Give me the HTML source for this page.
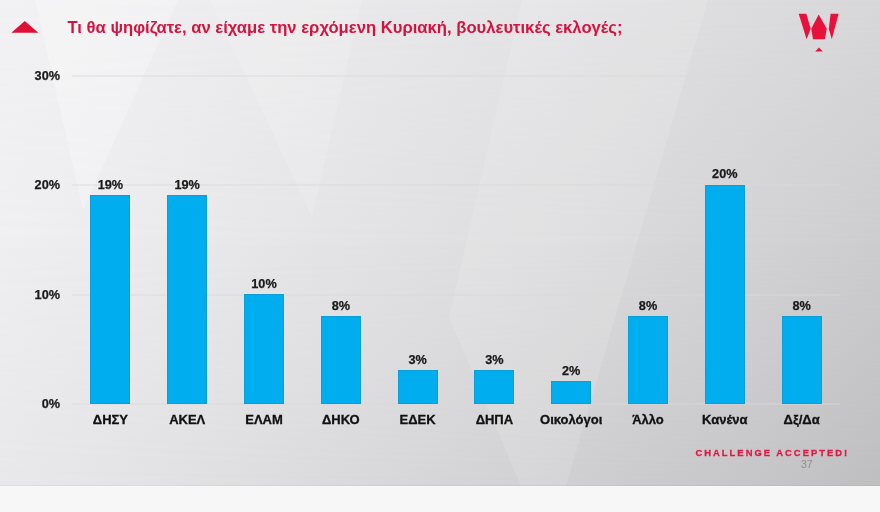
<!DOCTYPE html>
<html><head><meta charset="utf-8">
<style>
*{margin:0;padding:0;box-sizing:border-box}
html,body{width:880px;height:512px;overflow:hidden;background:#f7f7f7}
body{position:relative;font-family:"Liberation Sans",Arial,sans-serif}
#slide{position:absolute;left:0;top:0;width:880px;height:486px;overflow:hidden;background:#e0e0e2}
.bgl{position:absolute;left:0;top:0;width:880px;height:486px}
#bg0{background:linear-gradient(to right,rgb(242,242,244) 0px,rgb(240,240,242) 110px,rgb(237,237,239) 220px,rgb(234,234,236) 330px,rgb(231,231,233) 440px,rgb(228,228,230) 550px,rgb(224,224,226) 660px,rgb(220,220,222) 770px,rgb(216,216,218) 880px)}
#bg1{background:linear-gradient(to right,rgb(239,239,241) 0px,rgb(236,236,238) 110px,rgb(232,232,234) 220px,rgb(228,228,230) 330px,rgb(224,224,226) 440px,rgb(220,220,222) 550px,rgb(215,215,217) 660px,rgb(210,210,212) 770px,rgb(205,205,207) 880px);-webkit-mask-image:linear-gradient(to bottom,transparent 0px,#000 243px);mask-image:linear-gradient(to bottom,transparent 0px,#000 243px)}
#bg2{background:linear-gradient(to right,rgb(232,232,234) 0px,rgb(228,228,230) 110px,rgb(223,223,225) 220px,rgb(218,218,220) 330px,rgb(213,213,215) 440px,rgb(208,208,210) 550px,rgb(202,202,204) 660px,rgb(197,197,199) 770px,rgb(190,190,192) 880px);-webkit-mask-image:linear-gradient(to bottom,transparent 243px,#000 486px);mask-image:linear-gradient(to bottom,transparent 243px,#000 486px)}

#slide svg.bg{position:absolute;left:0;top:0}
.t{position:absolute;white-space:nowrap}
#title{left:67.5px;top:17px;font-size:16.65px;font-weight:bold;color:#d41440;line-height:22px}
.ax{position:absolute;font-size:12.7px;font-weight:bold;color:#1a1a1a;-webkit-text-stroke:0.25px #1a1a1a;line-height:14px;width:40px;text-align:right}
.grid{position:absolute;left:72px;width:768px;height:2px;background:rgba(217,217,218,0.42)}
.bar{position:absolute;width:40px;background:#00aeef;border:1px solid #0a9fd8}
.val{position:absolute;width:60px;text-align:center;font-size:12.7px;font-weight:bold;color:#1a1a1a;-webkit-text-stroke:0.25px #1a1a1a;line-height:14px}
.cat{position:absolute;width:90px;text-align:center;font-size:13px;font-weight:bold;color:#111;-webkit-text-stroke:0.3px #111;line-height:14px;top:413px}
#ch{left:695.5px;top:447px;font-size:9.4px;font-weight:bold;color:#e01845;letter-spacing:2.02px;-webkit-text-stroke:0.3px #e01845}
#pg{left:801px;top:457.5px;font-size:10.5px;color:#8e8e8e;line-height:12px}
</style></head><body>
<div id="slide">
<div class="bgl" id="bg0"></div><div class="bgl" id="bg1"></div><div class="bgl" id="bg2"></div>
<svg class="bg" width="880" height="486" viewBox="0 0 880 486">
 <polygon points="35,0 178,0 83,210" fill="#fff" opacity="0.26"/>
 <polygon points="210,0 362,0 312,217" fill="#fff" opacity="0.14"/>
 <polygon points="522,0 708,0 566,486 521,486 449,317" fill="#fff" opacity="0.12"/>
</svg>

<svg style="position:absolute;left:0;top:0" width="880" height="60">
 <polygon points="11.3,32.8 38.3,32.8 24.8,20.9" fill="#de1035"/>
 <!-- logo -->
 <polygon points="798.7,13.8 806.3,13.8 810.7,28.7 806.6,39.3" fill="#e8113c"/>
 <polygon points="830.6,13.8 838.6,13.8 831.8,39.3 828.8,28.7" fill="#e8113c"/>
 <polygon points="818.7,14.6 826.8,28.7 824.8,39.3 813,39.3 811.2,28.7" fill="#e8113c"/>
 <polygon points="815.2,51.5 822.8,51.5 819,47.5" fill="#e8113c"/>
</svg>

<div class="t" id="title">Τι θα ψηφίζατε, αν είχαμε την ερχόμενη Κυριακή, βουλευτικές εκλογές;</div>

<div class="grid" style="top:75px"></div>
<div class="grid" style="top:184.3px"></div>
<div class="grid" style="top:293.7px"></div>
<div class="grid" style="top:403px"></div>

<div class="ax" style="left:20px;top:69px">30%</div>
<div class="ax" style="left:20px;top:178px">20%</div>
<div class="ax" style="left:20px;top:288px">10%</div>
<div class="ax" style="left:20px;top:397px">0%</div>

<!-- bars: center_i = 72 + 76.8*(i+0.5); base 404; 10.93px per % -->
<div class="bar" style="left:90.4px;top:195.4px;height:208.6px"></div>
<div class="bar" style="left:167.2px;top:195.4px;height:208.6px"></div>
<div class="bar" style="left:244.0px;top:293.8px;height:110.2px"></div>
<div class="bar" style="left:320.8px;top:315.7px;height:88.3px"></div>
<div class="bar" style="left:397.6px;top:370.4px;height:33.6px"></div>
<div class="bar" style="left:474.4px;top:370.4px;height:33.6px"></div>
<div class="bar" style="left:551.2px;top:381.3px;height:22.7px"></div>
<div class="bar" style="left:628.0px;top:315.7px;height:88.3px"></div>
<div class="bar" style="left:704.8px;top:184.5px;height:219.5px"></div>
<div class="bar" style="left:781.6px;top:315.7px;height:88.3px"></div>

<div class="val" style="left:80.4px;top:178.2px">19%</div>
<div class="val" style="left:157.2px;top:178.2px">19%</div>
<div class="val" style="left:234.0px;top:276.6px">10%</div>
<div class="val" style="left:310.8px;top:298.5px">8%</div>
<div class="val" style="left:387.6px;top:353.2px">3%</div>
<div class="val" style="left:464.4px;top:353.2px">3%</div>
<div class="val" style="left:541.2px;top:364.1px">2%</div>
<div class="val" style="left:618.0px;top:298.5px">8%</div>
<div class="val" style="left:694.8px;top:167.3px">20%</div>
<div class="val" style="left:771.6px;top:298.5px">8%</div>

<div class="cat" style="left:65.4px">ΔΗΣΥ</div>
<div class="cat" style="left:142.2px">ΑΚΕΛ</div>
<div class="cat" style="left:219px">ΕΛΑΜ</div>
<div class="cat" style="left:295.8px">ΔΗΚΟ</div>
<div class="cat" style="left:372.6px">ΕΔΕΚ</div>
<div class="cat" style="left:449.4px">ΔΗΠΑ</div>
<div class="cat" style="left:526.2px">Οικολόγοι</div>
<div class="cat" style="left:603px">Άλλο</div>
<div class="cat" style="left:679.8px">Κανένα</div>
<div class="cat" style="left:756.6px">Δξ/Δα</div>

<div class="t" id="ch">CHALLENGE ACCEPTED!</div>
<div class="t" id="pg">37</div>
<div style="position:absolute;left:0;top:484.5px;width:880px;height:1.5px;background:rgba(0,0,0,0.035)"></div>
</div>
</body></html>
